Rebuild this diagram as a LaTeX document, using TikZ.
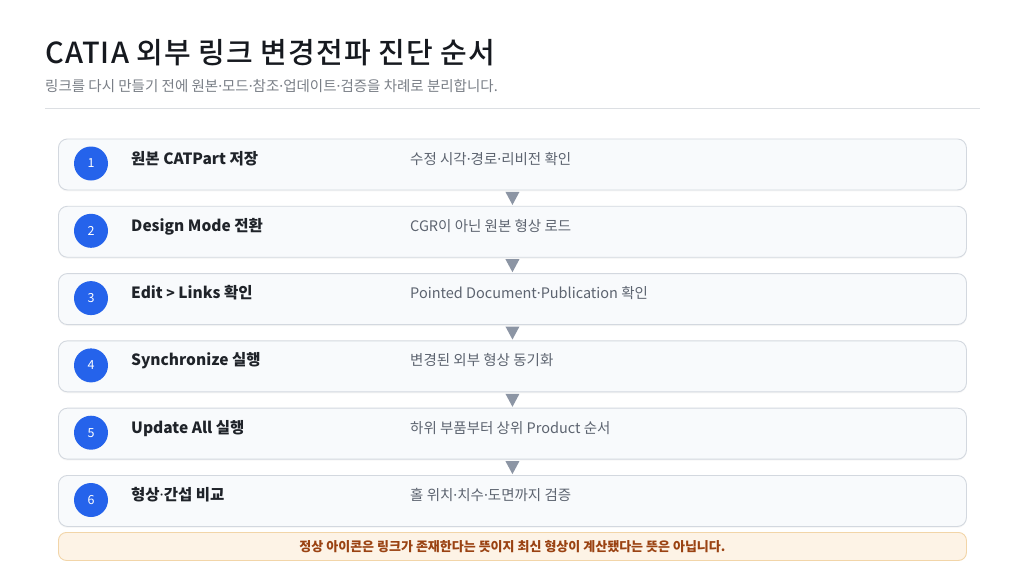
\documentclass[tikz,border=0pt]{standalone}
\usepackage{fontspec}
\setmainfont{Noto Sans CJK KR}
\newfontfamily\titlefont[LetterSpace=3.8]{Noto Sans CJK KR Medium}
\newfontfamily\dotfont{Noto Sans}
\newcommand{\md}{{\dotfont\char"00B7}}
\usetikzlibrary{shadows}
\definecolor{titlec}{HTML}{16191F}
\definecolor{subc}{HTML}{7A7F87}
\definecolor{rulec}{HTML}{DCDFE3}
\definecolor{boxfill}{HTML}{F8FAFC}
\definecolor{boxline}{HTML}{D3D8DF}
\definecolor{bluec}{HTML}{2563EB}
\definecolor{stepc}{HTML}{1F2329}
\definecolor{descc}{HTML}{5D6470}
\definecolor{arrowc}{HTML}{8C95A4}
\definecolor{notefill}{HTML}{FDF3E6}
\definecolor{noteline}{HTML}{F2D5A8}
\definecolor{notetext}{HTML}{9A4212}
\begin{document}
\begin{tikzpicture}[x=1pt,y=-1pt,
  stepbox/.style={draw=boxline, line width=0.9pt, fill=boxfill, rounded corners=9pt,
    minimum width=908pt, minimum height=51pt, inner sep=0pt, anchor=north west,
    drop shadow={opacity=0.06, shadow xshift=0pt, shadow yshift=-1.5pt}},
  numdot/.style={circle, fill=bluec, minimum size=34pt, inner sep=0pt, text=white,
    font=\fontsize{12.5}{14}\selectfont},
  steptitle/.style={anchor=base west, inner sep=0pt, text=stepc,
    font=\fontsize{15.5}{18}\selectfont\bfseries},
  stepdesc/.style={anchor=base west, inner sep=0pt, text=descc,
    font=\fontsize{14.5}{17}\selectfont},
  tri/.style={fill=arrowc},
]
\useasboundingbox[fill=white] (0,0) rectangle (1024,576);

\node[anchor=base west, inner sep=0pt, text=titlec, font=\fontsize{29}{33}\titlefont]
  (title) at (45,63) {CATIA 외부 링크 변경전파 진단 순서};
\node[anchor=base west, inner sep=0pt, text=subc, font=\fontsize{14.5}{17}\selectfont]
  (sub) at (45,91.5) {링크를 다시 만들기 전에 원본\md 모드\md 참조\md 업데이트\md 검증을 차례로 분리합니다.};
\coordinate (r1) at (45,108);
\coordinate (r2) at (980,108);
\draw[rulec, line width=0.9pt] (r1) -- (r2);

% step boxes
\node[stepbox] (b1) at (58,138.5) {};
\node[stepbox] (b2) at (58,205.8) {};
\node[stepbox] (b3) at (58,273.1) {};
\node[stepbox] (b4) at (58,340.4) {};
\node[stepbox] (b5) at (58,407.7) {};
\node[stepbox] (b6) at (58,475.0) {};

% numbers
\node[numdot] (n1) at (91,163.5) {1};
\node[numdot] (n2) at (91,230.8) {2};
\node[numdot] (n3) at (91,298.1) {3};
\node[numdot] (n4) at (91,365.4) {4};
\node[numdot] (n5) at (91,432.7) {5};
\node[numdot] (n6) at (91,500.0) {6};

% titles
\node[steptitle] (t1) at (131,164) {원본 CATPart 저장};
\node[steptitle] (t2) at (131,231.3) {Design Mode 전환};
\node[steptitle] (t3) at (131,298.6) {Edit \raisebox{0.5pt}{\fontsize{14}{16}\selectfont\textgreater} Links 확인};
\node[steptitle] (t4) at (131,365.9) {Synchronize 실행};
\node[steptitle] (t5) at (131,433.2) {Update All 실행};
\node[steptitle] (t6) at (131,500.5) {형상\md 간섭 비교};

% descriptions
\node[stepdesc] (d1) at (410,164) {수정 시각\md 경로\md 리비전 확인};
\node[stepdesc] (d2) at (410,231.3) {CGR이 아닌 원본 형상 로드};
\node[stepdesc] (d3) at (410,298.6) {Pointed Document\md Publication 확인};
\node[stepdesc] (d4) at (410,365.9) {변경된 외부 형상 동기화};
\node[stepdesc] (d5) at (410,433.2) {하위 부품부터 상위 Product 순서};
\node[stepdesc] (d6) at (410,500.5) {홀 위치\md 치수\md 도면까지 검증};

% arrow triangles between boxes
\foreach \a in {1,...,5}{
  \fill[tri] (b\a.south) ++(-7,1.5) -- ++(14,0) -- ++(-7,13) -- cycle;
}

% note
\node[draw=noteline, line width=0.9pt, fill=notefill, rounded corners=8pt,
  minimum width=908pt, minimum height=28pt, inner sep=0pt, anchor=north west]
  (note) at (58,532) {};
\node[inner sep=0pt, text=notetext, font=\fontsize{13}{15}\selectfont\bfseries]
  (notet) at (note.center) {정상 아이콘은 링크가 존재한다는 뜻이지 최신 형상이 계산됐다는 뜻은 아닙니다.};
\end{tikzpicture}
\end{document}
